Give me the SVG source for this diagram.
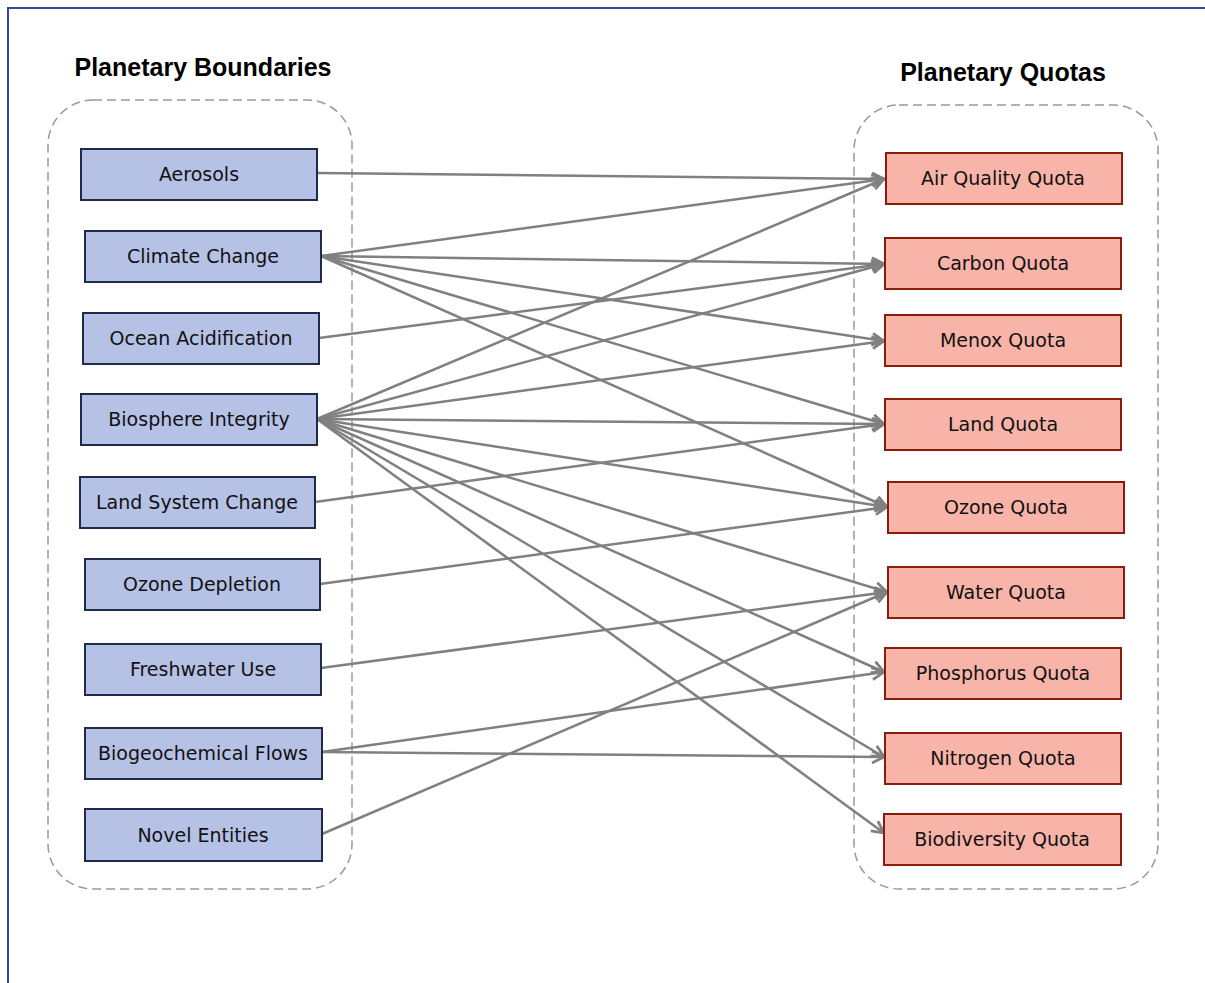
<svg xmlns="http://www.w3.org/2000/svg" width="1205" height="983" viewBox="0 0 1205 983">
<style>
.title{font-family:"Liberation Sans",Arial,sans-serif;font-weight:bold;font-size:25px;fill:#000;text-anchor:middle}
.lbl{font-family:"DejaVu Sans",sans-serif;font-size:19px;fill:#111;text-anchor:middle}
.pb{fill:#b6c1e6;stroke:#1f2a4e;stroke-width:2}
.pq{fill:#f8b4a8;stroke:#8a1c0c;stroke-width:2}
.grp{fill:none;stroke:#999;stroke-width:1.5;stroke-dasharray:9 5}
.edge{fill:none;stroke:#808080;stroke-width:2.5;marker-end:url(#arr)}
</style>
<defs>
<marker id="arr" markerUnits="userSpaceOnUse" markerWidth="18" markerHeight="18" refX="14" refY="9" orient="auto">
<path d="M2,3 L14,9 L2,15" fill="none" stroke="#808080" stroke-width="2.8" stroke-linejoin="miter"/>
</marker>
</defs>
<rect x="0" y="0" width="1205" height="983" fill="#fff"/>
<path d="M8,983 L8,8 L1205,8" fill="none" stroke="#34489a" stroke-width="2"/>
<text class="title" x="203" y="76">Planetary Boundaries</text>
<text class="title" x="1003" y="81">Planetary Quotas</text>
<rect class="grp" x="48" y="100" width="304" height="789" rx="45"/>
<rect class="grp" x="854" y="105" width="304" height="784" rx="45"/>
<g id="connectors">
<line class="edge" x1="318" y1="173" x2="884" y2="179"/>
<line class="edge" x1="321" y1="256" x2="884" y2="179"/>
<line class="edge" x1="321" y1="256" x2="884" y2="264"/>
<line class="edge" x1="321" y1="256" x2="884" y2="341"/>
<line class="edge" x1="321" y1="256" x2="884" y2="424"/>
<line class="edge" x1="321" y1="256" x2="887" y2="507"/>
<line class="edge" x1="319" y1="338" x2="884" y2="264"/>
<line class="edge" x1="317" y1="419" x2="884" y2="179"/>
<line class="edge" x1="317" y1="419" x2="884" y2="264"/>
<line class="edge" x1="317" y1="419" x2="884" y2="341"/>
<line class="edge" x1="317" y1="419" x2="884" y2="424"/>
<line class="edge" x1="317" y1="419" x2="887" y2="507"/>
<line class="edge" x1="317" y1="419" x2="887" y2="592"/>
<line class="edge" x1="317" y1="419" x2="884" y2="672"/>
<line class="edge" x1="317" y1="419" x2="884" y2="757"/>
<line class="edge" x1="317" y1="419" x2="884" y2="833"/>
<line class="edge" x1="315" y1="502" x2="884" y2="424"/>
<line class="edge" x1="320" y1="584" x2="887" y2="507"/>
<line class="edge" x1="321" y1="668" x2="887" y2="592"/>
<line class="edge" x1="322" y1="752" x2="884" y2="672"/>
<line class="edge" x1="322" y1="752" x2="884" y2="757"/>
<line class="edge" x1="322" y1="834" x2="887" y2="592"/>
</g>
<g id="aerosols"><rect class="pb" x="81" y="149" width="236" height="51"/><text class="lbl" x="199" y="181">Aerosols</text></g>
<g id="climate-change"><rect class="pb" x="85" y="231" width="236" height="51"/><text class="lbl" x="203" y="263">Climate Change</text></g>
<g id="ocean-acidification"><rect class="pb" x="83" y="313" width="236" height="51"/><text class="lbl" x="201" y="345">Ocean Acidification</text></g>
<g id="biosphere-integrity"><rect class="pb" x="81" y="394" width="236" height="51"/><text class="lbl" x="199" y="426">Biosphere Integrity</text></g>
<g id="land-system-change"><rect class="pb" x="80" y="477" width="235" height="51"/><text class="lbl" x="197" y="509">Land System Change</text></g>
<g id="ozone-depletion"><rect class="pb" x="85" y="559" width="235" height="51"/><text class="lbl" x="202" y="591">Ozone Depletion</text></g>
<g id="freshwater-use"><rect class="pb" x="85" y="644" width="236" height="51"/><text class="lbl" x="203" y="676">Freshwater Use</text></g>
<g id="biogeochemical-flows"><rect class="pb" x="85" y="728" width="237" height="51"/><text class="lbl" x="203" y="760">Biogeochemical Flows</text></g>
<g id="novel-entities"><rect class="pb" x="85" y="809" width="237" height="52"/><text class="lbl" x="203" y="842">Novel Entities</text></g>
<g id="air-quality-quota"><rect class="pq" x="886" y="153" width="236" height="51"/><text class="lbl" x="1003" y="185">Air Quality Quota</text></g>
<g id="carbon-quota"><rect class="pq" x="885" y="238" width="236" height="51"/><text class="lbl" x="1003" y="270">Carbon Quota</text></g>
<g id="menox-quota"><rect class="pq" x="885" y="315" width="236" height="51"/><text class="lbl" x="1003" y="347">Menox Quota</text></g>
<g id="land-quota"><rect class="pq" x="885" y="399" width="236" height="51"/><text class="lbl" x="1003" y="431">Land Quota</text></g>
<g id="ozone-quota"><rect class="pq" x="888" y="482" width="236" height="51"/><text class="lbl" x="1006" y="514">Ozone Quota</text></g>
<g id="water-quota"><rect class="pq" x="888" y="567" width="236" height="51"/><text class="lbl" x="1006" y="599">Water Quota</text></g>
<g id="phosphorus-quota"><rect class="pq" x="885" y="648" width="236" height="51"/><text class="lbl" x="1003" y="680">Phosphorus Quota</text></g>
<g id="nitrogen-quota"><rect class="pq" x="885" y="733" width="236" height="51"/><text class="lbl" x="1003" y="765">Nitrogen Quota</text></g>
<g id="biodiversity-quota"><rect class="pq" x="884" y="814" width="237" height="51"/><text class="lbl" x="1002" y="846">Biodiversity Quota</text></g>
</svg>
